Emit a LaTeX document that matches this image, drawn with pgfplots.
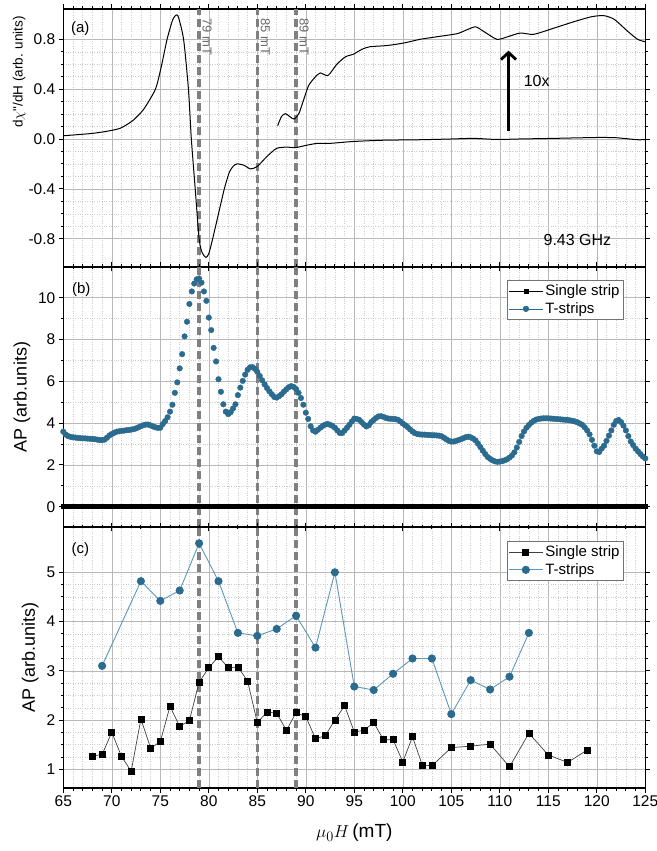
\documentclass[border=0pt]{standalone}
\usepackage{fontspec}
\setmainfont{Liberation Sans}
\usepackage{pgfplots}
\usepackage{pgfplotstable}
\pgfplotsset{compat=1.18}
\usetikzlibrary{arrows.meta}

\definecolor{tblue}{HTML}{2B6B8F}
\definecolor{tline}{HTML}{5C97BC}
\definecolor{dashgray}{HTML}{808080}

% AP vs field, T-strips (ts) and single strip (ss), step 0.25 mT
\pgfplotstableread{
x ts ss
65.00 3.59 0.02
65.25 3.45 0.02
65.50 3.38 0.03
65.75 3.34 0.02
66.00 3.32 0.02
66.25 3.31 0.01
66.50 3.29 0.02
66.75 3.28 0.02
67.00 3.27 0.03
67.25 3.27 0.02
67.50 3.26 0.02
67.75 3.25 0.01
68.00 3.24 0.02
68.25 3.23 0.02
68.50 3.21 0.03
68.75 3.19 0.02
69.00 3.19 0.02
69.25 3.21 0.02
69.50 3.30 0.03
69.75 3.41 0.02
70.00 3.48 0.02
70.25 3.54 0.01
70.50 3.59 0.02
70.75 3.61 0.02
71.00 3.63 0.03
71.25 3.64 0.02
71.50 3.66 0.02
71.75 3.67 0.02
72.00 3.69 0.01
72.25 3.71 0.02
72.50 3.75 0.02
72.75 3.80 0.03
73.00 3.85 0.02
73.25 3.90 0.02
73.50 3.93 0.02
73.75 3.93 0.03
74.00 3.89 0.02
74.25 3.84 0.02
74.50 3.80 0.01
74.75 3.77 0.02
75.00 3.78 0.02
75.25 3.95 0.03
75.50 4.10 0.02
75.75 4.28 0.02
76.00 4.55 0.02
76.25 4.88 0.03
76.50 5.45 0.02
76.75 5.95 0.02
77.00 6.62 0.02
77.25 7.30 0.01
77.50 8.15 0.02
77.75 8.85 0.02
78.00 9.70 0.03
78.25 10.30 0.02
78.50 10.68 0.02
78.75 10.88 0.03
79.00 10.92 0.04
79.25 10.72 0.03
79.50 10.30 0.02
79.75 9.85 0.02
80.00 9.05 0.03
80.25 8.45 0.02
80.50 7.60 0.02
80.75 6.95 0.01
81.00 6.10 0.02
81.25 5.50 0.02
81.50 4.90 0.02
81.75 4.55 0.03
82.00 4.43 0.02
82.25 4.52 0.02
82.50 4.70 0.01
82.75 4.90 0.02
83.00 5.34 0.02
83.25 5.70 0.02
83.50 6.02 0.03
83.75 6.32 0.02
84.00 6.55 0.02
84.25 6.67 0.02
84.50 6.68 0.01
84.75 6.60 0.02
85.00 6.45 0.02
85.25 6.26 0.03
85.50 6.05 0.02
85.75 5.85 0.02
86.00 5.68 0.02
86.25 5.52 0.01
86.50 5.38 0.02
86.75 5.25 0.02
87.00 5.22 0.03
87.25 5.29 0.02
87.50 5.38 0.02
87.75 5.51 0.02
88.00 5.62 0.01
88.25 5.72 0.02
88.50 5.77 0.02
88.75 5.73 0.03
89.00 5.63 0.02
89.25 5.45 0.02
89.50 5.20 0.02
89.75 4.88 0.01
90.00 4.50 0.02
90.25 4.20 0.02
90.50 3.85 0.03
90.75 3.65 0.02
91.00 3.59 0.02
91.25 3.68 0.02
91.50 3.78 0.01
91.75 3.87 0.02
92.00 3.93 0.02
92.25 3.96 0.03
92.50 3.92 0.02
92.75 3.87 0.02
93.00 3.78 0.02
93.25 3.65 0.01
93.50 3.53 0.02
93.75 3.53 0.02
94.00 3.65 0.03
94.25 3.78 0.02
94.50 3.92 0.02
94.75 4.08 0.02
95.00 4.22 0.01
95.25 4.20 0.02
95.50 4.16 0.02
95.75 4.05 0.03
96.00 3.93 0.02
96.25 3.84 0.02
96.50 3.90 0.02
96.75 4.05 0.01
97.00 4.15 0.02
97.25 4.25 0.02
97.50 4.32 0.03
97.75 4.33 0.02
98.00 4.30 0.02
98.25 4.25 0.02
98.50 4.22 0.01
98.75 4.21 0.02
99.00 4.20 0.02
99.25 4.19 0.03
99.50 4.16 0.02
99.75 4.08 0.02
100.00 3.98 0.02
100.25 3.90 0.01
100.50 3.81 0.02
100.75 3.70 0.02
101.00 3.60 0.03
101.25 3.52 0.02
101.50 3.48 0.02
101.75 3.46 0.02
102.00 3.45 0.01
102.25 3.45 0.02
102.50 3.44 0.02
102.75 3.43 0.03
103.00 3.42 0.02
103.25 3.42 0.02
103.50 3.41 0.02
103.75 3.40 0.01
104.00 3.37 0.02
104.25 3.30 0.02
104.50 3.22 0.03
104.75 3.15 0.02
105.00 3.12 0.02
105.25 3.12 0.02
105.50 3.15 0.01
105.75 3.19 0.02
106.00 3.23 0.02
106.25 3.28 0.03
106.50 3.33 0.02
106.75 3.35 0.02
107.00 3.32 0.02
107.25 3.26 0.01
107.50 3.17 0.02
107.75 3.02 0.02
108.00 2.85 0.03
108.25 2.68 0.02
108.50 2.52 0.02
108.75 2.38 0.02
109.00 2.29 0.01
109.25 2.22 0.02
109.50 2.17 0.02
109.75 2.15 0.03
110.00 2.16 0.02
110.25 2.18 0.02
110.50 2.22 0.02
110.75 2.27 0.01
111.00 2.35 0.02
111.25 2.45 0.02
111.50 2.60 0.03
111.75 2.83 0.02
112.00 3.10 0.02
112.25 3.38 0.02
112.50 3.60 0.01
112.75 3.78 0.02
113.00 3.91 0.02
113.25 4.02 0.03
113.50 4.11 0.02
113.75 4.17 0.02
114.00 4.20 0.02
114.25 4.22 0.01
114.50 4.23 0.02
114.75 4.23 0.02
115.00 4.23 0.03
115.25 4.22 0.02
115.50 4.21 0.02
115.75 4.20 0.02
116.00 4.19 0.01
116.25 4.18 0.02
116.50 4.17 0.02
116.75 4.16 0.03
117.00 4.15 0.02
117.25 4.13 0.02
117.50 4.11 0.02
117.75 4.08 0.01
118.00 4.04 0.02
118.25 3.98 0.02
118.50 3.92 0.03
118.75 3.80 0.02
119.00 3.65 0.02
119.25 3.46 0.02
119.50 3.20 0.01
119.75 2.92 0.02
120.00 2.65 0.02
120.25 2.62 0.03
120.50 2.78 0.02
120.75 2.92 0.02
121.00 3.15 0.02
121.25 3.40 0.01
121.50 3.65 0.02
121.75 3.92 0.02
122.00 4.10 0.03
122.25 4.15 0.02
122.50 4.05 0.02
122.75 3.88 0.02
123.00 3.65 0.01
123.25 3.38 0.02
123.50 3.12 0.02
123.75 2.95 0.03
124.00 2.78 0.02
124.25 2.65 0.02
124.50 2.52 0.02
124.75 2.40 0.01
125.00 2.31 0.02
}\apdata

\tikzset{dashv/.style={dashgray, line width=3.4pt, dash pattern=on 8pt off 4pt}}

\pgfplotsset{
  panel/.style={
    scale only axis, width=582pt,
    xmin=65, xmax=125,
    xtick={65,70,...,125}, minor x tick num=4,
    grid=both,
    major grid style={draw=black!28, line width=0.55pt},
    minor grid style={draw=black!20, dotted, line width=0.45pt},
    tick align=outside,
    major tick length=4.5pt, minor tick length=2.5pt,
    every tick/.style={black, line width=0.9pt},
    axis line style={line width=1.1pt},
    tick label style={font=\fontsize{15.5}{18}\selectfont},
    /pgf/number format/assume math mode=true,
    ylabel style={anchor=center},
  },
  ourlegend/.style={
    legend style={at={(axis description cs:1,1)}, anchor=north east,
      xshift=-22pt, yshift=-#1, draw=black!55, line width=0.6pt,
      font=\fontsize{15}{17}\selectfont, inner xsep=1.5pt, inner ysep=2.5pt,
      row sep=1.5pt, cells={anchor=west}},
  },
}

\begin{document}
\begin{tikzpicture}
\path[use as bounding box] (-63.3pt,-63pt) rectangle (592.7pt,788pt);

% ---------- (a) ----------
\begin{axis}[panel, at={(0pt,521pt)}, height=258pt,
  ymin=-1.027, ymax=1.043,
  ytick={-0.8,-0.4,0,0.4,0.8}, yticklabels={-0.8,-0.4,0.0,0.4,0.8},
  minor y tick num=3,
  xticklabels={},
  ylabel={d$\chi$\textquotedbl/dH (arb. units)},
  ylabel style={at={(axis description cs:-0.076,0.756)}, font=\fontsize{13.5}{16}\selectfont},
]
\draw[dashv] (axis cs:79,-1.027) -- (axis cs:79,1.043);
\draw[dashv] (axis cs:85,-1.027) -- (axis cs:85,1.043);
\draw[dashv] (axis cs:89,-1.027) -- (axis cs:89,1.043);

\addplot[black, line width=1pt, smooth, tension=0.4] coordinates {
  (65.0,0.026) (66.5,0.035) (68.0,0.045) (69.5,0.062) (70.9,0.087)
  (72.2,0.15) (73.3,0.24) (74.5,0.40) (75.1,0.58) (75.7,0.80)
  (76.3,0.96) (76.8,0.99) (77.4,0.80) (77.9,0.40) (78.2,0.00)
  (78.6,-0.40) (79.0,-0.80) (79.3,-0.91) (79.7,-0.95) (80.0,-0.92)
  (80.4,-0.80) (81.0,-0.60) (81.6,-0.40) (82.1,-0.27) (82.5,-0.22)
  (82.9,-0.20) (83.6,-0.21) (84.3,-0.24) (85.0,-0.22) (86.0,-0.14)
  (87.0,-0.075) (88.1,-0.065) (88.9,-0.07) (90.1,-0.05) (91.2,-0.035)
  (92.5,-0.035) (94.9,-0.02) (98.0,-0.01) (101.8,-0.006) (105.0,0.0)
  (107.3,0.005) (109.7,-0.004) (112.0,0.0) (115.6,0.005) (120.0,0.012)
  (122.0,0.01) (124.2,-0.006) (125.0,-0.004)
};
% 10x magnified part
\addplot[black, line width=1pt, smooth, tension=0.4] coordinates {
  (87.1,0.107) (87.5,0.181) (87.9,0.203) (88.4,0.177) (88.8,0.160)
  (89.3,0.206) (89.8,0.32) (90.3,0.43) (91.0,0.50) (91.5,0.53)
  (92.3,0.51) (93.2,0.60) (94.1,0.66) (94.9,0.68) (95.8,0.72)
  (96.6,0.74) (98.4,0.75) (100.1,0.77) (101.8,0.80) (103.5,0.82)
  (105.6,0.845) (106.6,0.876) (107.5,0.90) (108.3,0.865) (109.7,0.80)
  (110.8,0.82) (112.1,0.85) (113.5,0.84) (115.6,0.89) (117.6,0.94)
  (119.4,0.98) (120.7,0.99) (121.8,0.96) (123.1,0.87) (124.2,0.80)
  (125.0,0.78)
};
\draw[line width=2.8pt, -{Straight Barb[length=7pt, width=15pt]}]
  (axis cs:110.9,0.066) -- (axis cs:110.9,0.709);
\node[font=\fontsize{16}{18}\selectfont] at (axis cs:113.8,0.465) {10x};
\node[font=\fontsize{16}{18}\selectfont] at (axis cs:118.0,-0.811) {9.43 GHz};
\node[font=\fontsize{15}{18}\selectfont] at ([xshift=17pt,yshift=-20pt]rel axis cs:0,1) {(a)};
\node[rotate=-90, anchor=south west, inner sep=0pt, text=black!58,
      font=\fontsize{13}{15}\selectfont]
  at ([xshift=3.2pt,yshift=-9pt]axis cs:79,1.043) {79 mT};
\node[rotate=-90, anchor=south west, inner sep=0pt, text=black!58,
      font=\fontsize{13}{15}\selectfont]
  at ([xshift=3.2pt,yshift=-9pt]axis cs:85,1.043) {85 mT};
\node[rotate=-90, anchor=south west, inner sep=0pt, text=black!58,
      font=\fontsize{13}{15}\selectfont]
  at ([xshift=3.2pt,yshift=-9pt]axis cs:89,1.043) {89 mT};
\end{axis}

% ---------- (b) ----------
\begin{axis}[panel, at={(0pt,261pt)}, height=260pt,
  ymin=-0.97, ymax=11.47,
  ytick={0,2,...,10}, minor y tick num=1,
  xticklabels={},
  ylabel={AP (arb.units)},
  ylabel style={at={(axis description cs:-0.071,0.5)}, font=\fontsize{18}{20}\selectfont},
  ourlegend=13pt,
  legend image code/.code={
    \path (0pt,0pt) -- (34pt,0pt);
    \draw plot coordinates {(17pt,0pt)};
  },
]
\draw[dashv] (axis cs:79,-0.97) -- (axis cs:79,11.47);
\draw[dashv] (axis cs:85,-0.97) -- (axis cs:85,11.47);
\draw[dashv] (axis cs:89,-0.97) -- (axis cs:89,11.47);
\addplot[only marks, mark=square*, mark size=1.9pt, black] table[x=x, y=ss] {\apdata};
\addplot[only marks, mark=*, mark size=2.8pt, tblue, mark options={draw=tblue, fill=tblue}] table[x=x, y=ts] {\apdata};
\legend{Single strip, T-strips}
\node[font=\fontsize{15}{18}\selectfont] at ([xshift=18pt,yshift=-23pt]rel axis cs:0,1) {(b)};
\end{axis}

% ---------- (c) ----------
\begin{axis}[panel, at={(0pt,0pt)}, height=261pt,
  ymin=0.62, ymax=5.92,
  ytick={1,2,3,4,5}, minor y tick num=3,
  xlabel={$\mu_0H$\,(mT)},
  xlabel style={at={(axis description cs:0.5,0)}, anchor=center, yshift=-45pt, font=\fontsize{19}{21}\selectfont},
  ylabel={AP (arb.units)},
  ylabel style={at={(axis description cs:-0.057,0.5)}, font=\fontsize{18}{20}\selectfont},
  ourlegend=14pt,
  legend image code/.code={
    \draw[mark repeat=2, mark phase=2] plot coordinates {(0pt,0pt) (17pt,0pt) (34pt,0pt)};
  },
]
\draw[dashv] (axis cs:79,0.62) -- (axis cs:79,5.92);
\draw[dashv] (axis cs:85,0.62) -- (axis cs:85,5.92);
\draw[dashv] (axis cs:89,0.62) -- (axis cs:89,5.92);
\addplot[black!75, line width=0.7pt, mark=square*, mark size=3pt,
  mark options={black, fill=black, solid}] coordinates {
  (68,1.27) (69,1.30) (70,1.75) (71,1.26) (72,0.96) (73,2.02) (74,1.43)
  (75,1.56) (76,2.28) (77,1.87) (78,1.99) (79,2.77) (80,3.06) (81,3.29)
  (82,3.06) (83,3.08) (84,2.79) (85,1.95) (86,2.16) (87,2.14) (88,1.79)
  (89,2.15) (90,2.07) (91,1.62) (92,1.68) (93,2.00) (94,2.29) (95,1.76)
  (96,1.79) (97,1.95) (98,1.60) (99,1.60) (100,1.15) (101,1.66) (102,1.09)
  (103,1.07) (105,1.44) (107,1.47) (109,1.51) (111,1.05) (113,1.73)
  (115,1.29) (117,1.14) (119,1.39)
};
\addplot[tline, line width=0.9pt, mark=*, mark size=3.6pt,
  mark options={draw=tblue, fill=tblue, solid}] coordinates {
  (69,3.10) (73,4.82) (75,4.42) (77,4.63) (79,5.59) (81,4.82) (83,3.77)
  (85,3.71) (87,3.85) (89,4.12) (91,3.47) (93,5.00) (95,2.68) (97,2.61)
  (99,2.94) (101,3.25) (103,3.25) (105,2.12) (107,2.81) (109,2.62)
  (111,2.88) (113,3.77)
};
\legend{Single strip, T-strips}
\node[font=\fontsize{15}{18}\selectfont] at ([xshift=17pt,yshift=-23pt]rel axis cs:0,1) {(c)};
\end{axis}
\end{tikzpicture}
\end{document}
